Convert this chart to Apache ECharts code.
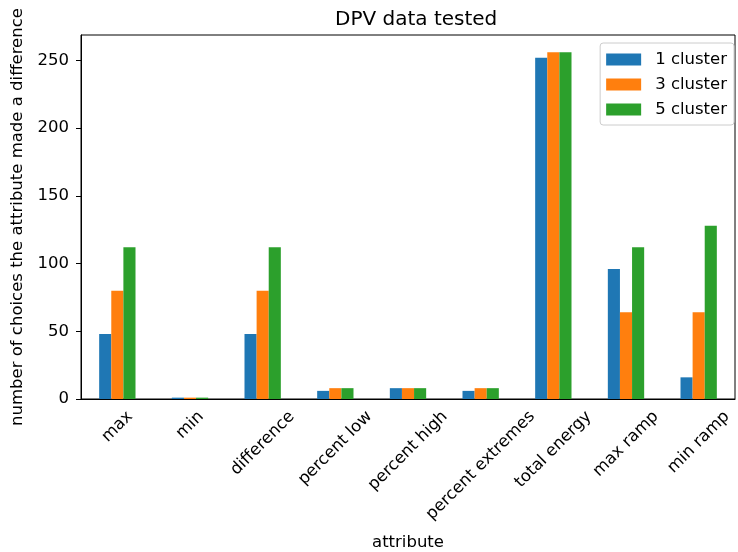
<!DOCTYPE html>
<html><head><meta charset="utf-8">
<script src="https://cdn.jsdelivr.net/npm/echarts@6/dist/echarts.min.js"></script>
<style>html,body{margin:0;padding:0;background:#fff}#c{width:738px;height:552px}</style>
</head><body><div id="c"></div>
<script>
const categories = ['max','min','difference','percent low','percent high','percent extremes','total energy','max ramp','min ramp'];
const cluster1 = [48, 1, 48, 6, 8, 6, 252, 96, 16];
const cluster3 = [80, 1, 80, 8, 8, 8, 256, 64, 64];
const cluster5 = [112, 1, 112, 8, 8, 8, 256, 112, 128];
const seriesNames = ['1 cluster','3 cluster','5 cluster'];
const colors = ['#1f77b4','#ff7f0e','#2ca02c'];
const font = 'DejaVu Sans';
const fs = 16.5;
const chart = echarts.init(document.getElementById('c'));
const data = [cluster1, cluster3, cluster5];
const gridBottom = 153;
chart.setOption({
  animation: false,
  textStyle: {fontFamily: font},
  title: {text: 'DPV data tested', left: 330, top: 5,
    textStyle: {fontFamily: font, fontSize: 20, fontWeight: 'normal', color: '#000'}},
  grid: {left: 81, right: 3, top: 35, bottom: gridBottom, show: true, borderColor: '#000', borderWidth: 1,
    containLabel: false, outerBoundsMode: 'none'},
  legend: {orient: 'vertical', right: 4, top: 43, itemWidth: 35, itemHeight: 12, itemGap: 8,
    padding: [8, 7, 7, 6], borderColor: '#ccc', borderWidth: 1, borderRadius: 3,
    textStyle: {fontFamily: font, fontSize: fs, color: '#000', padding: [0, 0, 0, 9]}, icon: 'rect'},
  xAxis: {type: 'category', data: categories, name: 'attribute', nameLocation: 'middle', nameGap: 135,
    nameTextStyle: {fontFamily: font, fontSize: fs, color: '#000'},
    axisLine: {lineStyle: {color: '#000'}}, axisTick: {alignWithLabel: true, length: 5, lineStyle: {color: '#000'}},
    axisLabel: {show: false}},
  yAxis: {type: 'value', min: 0, max: 268.8, interval: 50,
    name: 'number of choices the attribute made a difference', nameLocation: 'middle', nameGap: 55,
    nameTextStyle: {fontFamily: font, fontSize: fs, color: '#000'},
    axisLine: {show: true, lineStyle: {color: '#000'}}, axisTick: {show: true, length: 5, lineStyle: {color: '#000'}},
    splitLine: {show: false},
    axisLabel: {fontFamily: font, fontSize: fs, color: '#000', margin: 12, showMaxLabel: false}},
  series: seriesNames.map((n, i) => ({name: n, type: 'bar', data: data[i], barGap: '0%', barCategoryGap: '50%',
    itemStyle: {color: colors[i]}}))
});
// matplotlib-style rotated tick labels: rotated bbox centred on the tick
const ctx = document.createElement('canvas').getContext('2d');
ctx.font = fs + 'px ' + font;
const axisY = chart.convertToPixel({yAxisIndex: 0}, 0);
const h = 17;
const labels = categories.map(c => {
  const x = chart.convertToPixel({xAxisIndex: 0}, c);
  const w = ctx.measureText(c).width;
  const half = (w + h) / (2 * Math.SQRT2);
  return {type: 'text', x: x, y: axisY + 9 + half, rotation: Math.PI / 4,
    style: {text: c, fontFamily: font, fontSize: fs, fill: '#000', align: 'center', verticalAlign: 'middle'}};
});
chart.setOption({graphic: labels});
</script></body></html>
